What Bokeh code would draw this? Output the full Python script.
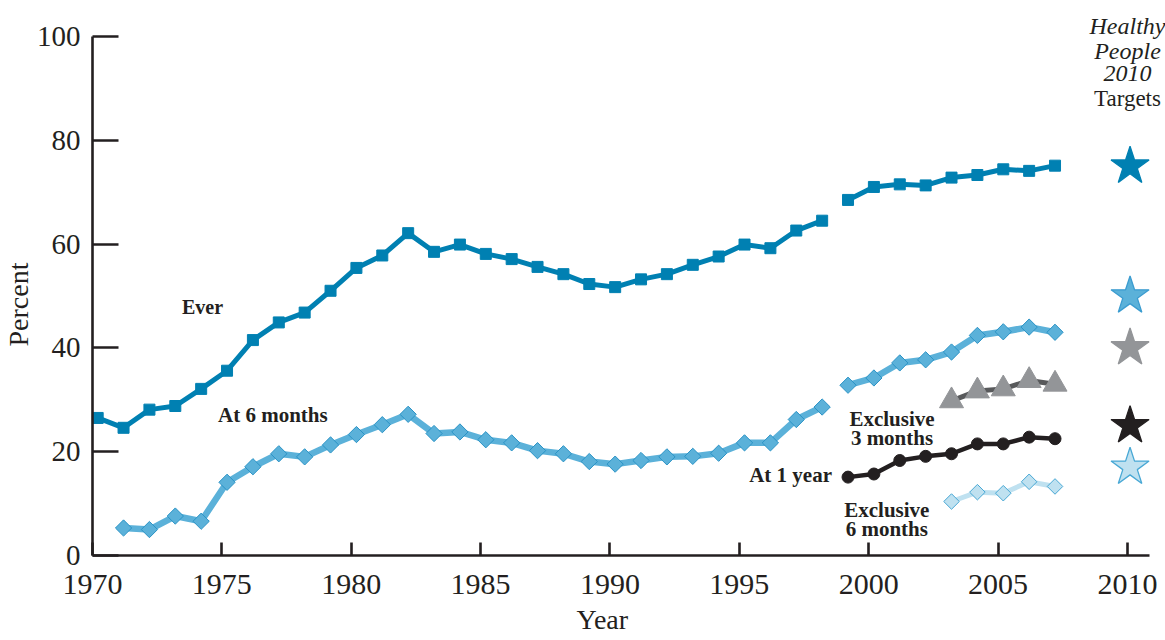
import math
from bokeh.plotting import figure
from bokeh.models import Label, FixedTicker, Range1d, Title
from bokeh.embed import file_html
from bokeh.resources import INLINE

# ---------------- data ----------------
ever_years = list(range(1970, 2008))
ever = [26.5, 24.6, 28.1, 28.8, 32.1, 35.6, 41.5, 44.9, 46.8, 51.0,
        55.4, 57.8, 62.1, 58.5, 59.9, 58.1, 57.1, 55.6, 54.2, 52.3,
        51.7, 53.2, 54.2, 56.0, 57.6, 59.9, 59.2, 62.6, 64.5, 68.5,
        71.0, 71.5, 71.3, 72.8, 73.3, 74.4, 74.1, 75.1]

six_years = list(range(1971, 2008))
six_months = [5.3, 5.0, 7.6, 6.6, 14.1, 17.1, 19.6, 19.0, 21.3, 23.3,
              25.2, 27.2, 23.5, 23.8, 22.3, 21.7, 20.2, 19.6, 18.1, 17.6,
              18.3, 19.0, 19.1, 19.7, 21.7, 21.7, 26.2, 28.6, 32.8, 34.2,
              37.1, 37.7, 39.2, 42.4, 43.1, 44.0, 43.0]

one_years = list(range(1999, 2008))
one_year = [15.1, 15.7, 18.3, 19.1, 19.6, 21.5, 21.5, 22.8, 22.5]

ex_years = list(range(2003, 2008))
excl3 = [29.8, 31.7, 32.1, 33.7, 33.0]
excl6 = [10.4, 12.2, 12.0, 14.2, 13.3]

target_year = 2010
targets = {"Ever": 75, "At 6 months": 50, "Exclusive 3 months": 40,
           "At 1 year": 25, "Exclusive 6 months": 17}

x_ticks = [1970, 1975, 1980, 1985, 1990, 1995, 2000, 2005, 2010]
y_ticks = [0, 20, 40, 60, 80, 100]
break_year = 1999  # survey break

# ---------------- styling ----------------
PT = 0.2  # points plotted mid-year
INK = "#231F20"
EVER_C = "#0080B2"
SIX_C = "#5BB1D9"
SIX_EDGE = "#2A93C6"
ONE_C = "#231F20"
EX3_C = "#939598"
EX3_LINE = "#58595B"
EX6_C = "#BFE1F0"
EX6_EDGE = "#48A8D5"
SERIF = "Liberation Serif"

p = figure(width=1165, height=640, output_backend="svg", toolbar_location=None,
           x_range=Range1d(1970, 2011.47), y_range=Range1d(0, 106.92),
           min_border_left=92, min_border_right=0, min_border_top=0,
           min_border_bottom=84)
p.outline_line_color = None
p.xgrid.visible = False
p.ygrid.visible = False
p.background_fill_color = "white"

for ax in (p.xaxis[0], p.yaxis[0]):
    ax.axis_line_color = INK
    ax.axis_line_width = 2.6
    ax.major_tick_line_color = INK
    ax.major_tick_line_width = 2.6
    ax.minor_tick_line_color = None
    ax.major_tick_out = 0
    ax.major_label_text_font = SERIF
    ax.major_label_text_color = INK

p.xaxis.major_label_text_font_size = "30px"
p.yaxis.major_label_text_font_size = "29px"
p.xaxis.ticker = FixedTicker(ticks=x_ticks)
p.yaxis.ticker = FixedTicker(ticks=y_ticks)
p.xaxis.major_tick_in = 13
p.yaxis.major_tick_in = 26
p.xaxis.major_label_standoff = 19
p.yaxis.major_label_standoff = 12
p.xaxis.bounds = (1970, 2010.85)
p.yaxis.bounds = (0, 100)

# axis titles
p.add_layout(Title(text="Percent", align="left", offset=209, text_font=SERIF,
                   text_font_size="28px", text_font_style="normal", text_color=INK,
                   standoff=0), "left")
p.add_layout(Title(text="Year", align="left", offset=484, text_font=SERIF,
                   text_font_size="28px", text_font_style="normal", text_color=INK,
                   standoff=11), "below")


def split(years, vals):
    a = [(y + PT, v) for y, v in zip(years, vals) if y < break_year]
    b = [(y + PT, v) for y, v in zip(years, vals) if y >= break_year]
    return [seg for seg in (a, b) if seg]


# Ever
for seg in split(ever_years, ever):
    xs, ys = zip(*seg)
    p.line(xs, ys, line_color=EVER_C, line_width=5)
p.scatter([y + PT for y in ever_years], ever, marker="square", size=11,
          fill_color=EVER_C, line_color=EVER_C)

# At 6 months
for seg in split(six_years, six_months):
    xs, ys = zip(*seg)
    p.line(xs, ys, line_color=SIX_C, line_width=6.5)
p.scatter([y + PT for y in six_years], six_months, marker="square", angle=math.pi / 4,
          size=11.5, fill_color=SIX_C, line_color=SIX_EDGE, line_width=1)

# Exclusive 3 months
p.line([y + PT for y in ex_years], excl3, line_color=EX3_LINE, line_width=5)
p.scatter([y + PT for y in ex_years], excl3, marker="triangle", size=24,
          fill_color=EX3_C, line_color=EX3_C)

# At 1 year
p.line([y + PT for y in one_years], one_year, line_color=ONE_C, line_width=4.5)
p.scatter([y + PT for y in one_years], one_year, marker="circle", size=12,
          fill_color=ONE_C, line_color=ONE_C)

# Exclusive 6 months
p.line([y + PT for y in ex_years], excl6, line_color=EX6_C, line_width=5)
p.scatter([y + PT for y in ex_years], excl6, marker="square", angle=math.pi / 4,
          size=11, fill_color=EX6_C, line_color=EX6_EDGE, line_width=1)

# Targets (stars)
star_fill = [EVER_C, SIX_C, EX3_C, ONE_C, EX6_C]
star_line = [EVER_C, "#3B9CD0", EX3_C, ONE_C, EX6_EDGE]
tv = list(targets.values())
p.scatter([target_year + 0.1] * len(tv), tv, marker="star", size=40,
          fill_color=star_fill, line_color=star_line, line_width=1.3)


def lab(x, y, text, size="20px", style="bold", align="left", baseline="middle", angle=0):
    p.add_layout(Label(x=x, y=y, text=text, text_font=SERIF, text_font_size=size,
                       text_font_style=style, text_align=align, text_baseline=baseline,
                       text_color=INK, angle=angle))


lab(1973.46, 47.9, "Ever")
lab(1974.85, 27.1, "At 6 months", size="21px")
lab(2000.9, 26.3, "Exclusive", size="21px", align="center")
lab(2000.9, 22.6, "3 months", size="21px", align="center")
lab(1998.58, 15.6, "At 1 year", size="21px", align="right")
lab(2000.7, 8.8, "Exclusive", size="21px", align="center")
lab(2000.7, 5.1, "6 months", size="21px", align="center")

lab(2010.0, 102.1, "Healthy", size="24px", style="italic", align="center")
lab(2010.0, 97.1, "People", size="24px", style="italic", align="center")
lab(2010.0, 92.9, "2010", size="24px", style="italic", align="center")
lab(2010.0, 88.1, "Targets", size="23px", style="normal", align="center")

open("out.html", "w").write(file_html(p, INLINE))
